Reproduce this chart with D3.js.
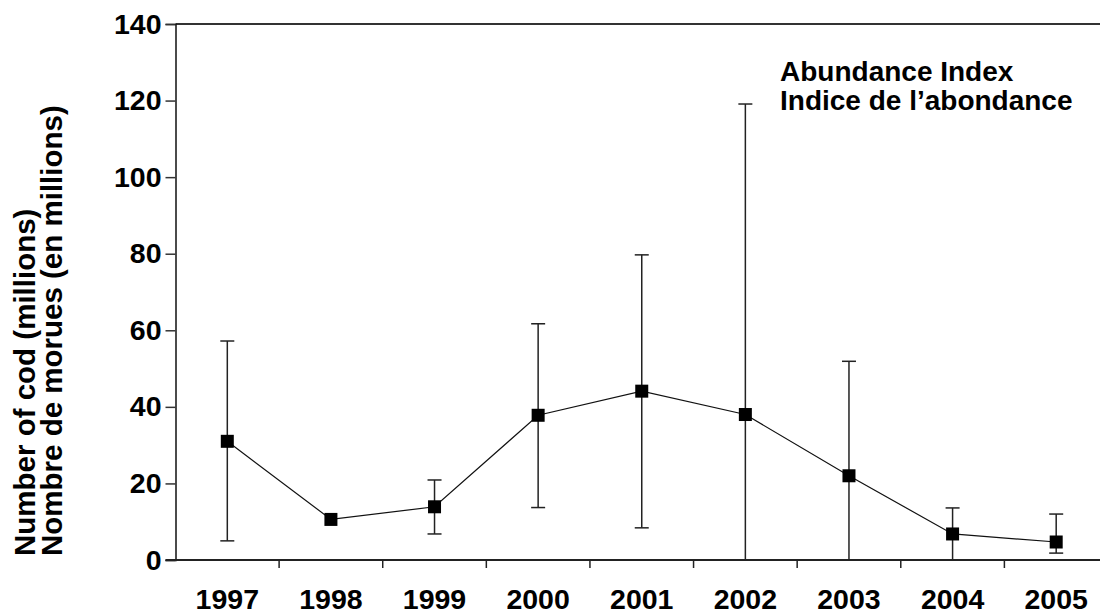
<!DOCTYPE html>
<html>
<head>
<meta charset="utf-8">
<script src="https://cdn.jsdelivr.net/npm/d3@7"></script>
<style>
  body { margin: 0; background: #fff; }
  svg { display: block; font-family: Arial, "Liberation Sans", sans-serif; font-weight: bold; }
</style>
</head>
<body>
<svg id="chart" width="1100" height="615"></svg>
<script>
const years = ["1997","1998","1999","2000","2001","2002","2003","2004","2005"];
const abundance = [31.0, 10.6, 13.9, 37.8, 44.1, 38.0, 22.0, 6.8, 4.7];
const upperCI   = [57.2, null, 20.9, 61.7, 79.7, 119.1, 51.9, 13.6, 12.0];
const lowerCI   = [5.0,  null, 6.8, 13.7, 8.4, 0, 0, 0, 1.8];
const yTicks = [0, 20, 40, 60, 80, 100, 120, 140];
const legendLines = ["Abundance Index", "Indice de l\u2019abondance"];
const yTitleLines = ["Number of cod (millions)", "Nombre de morues (en millions)"];

const svg = d3.select("#chart");
const plotLeft = 175.5, plotRight = 1108, plotTop = 24, plotBottom = 560;

const x = d3.scaleBand().domain(years).range([plotLeft, plotRight]).padding(0);
const y = d3.scaleLinear().domain([0, 140]).range([plotBottom, plotTop]);

// top frame line
svg.append("line").attr("x1", plotLeft).attr("x2", 1100).attr("y1", y(140)).attr("y2", y(140))
  .attr("stroke", "#333").attr("stroke-width", 2);

// y axis
const yAxis = svg.append("g").attr("transform", `translate(${plotLeft},0)`)
  .call(d3.axisLeft(y).tickValues(yTicks).tickSize(10).tickPadding(4));
yAxis.select(".domain").attr("stroke", "#111").attr("stroke-width", 1.5);
yAxis.selectAll(".tick line").attr("stroke", "#333").attr("stroke-width", 1.5);
yAxis.selectAll("text").attr("font-size", 28.5).attr("font-weight", "bold").attr("fill", "#000")
  .attr("font-family", "Arial, 'Liberation Sans', sans-serif");

// x axis line
svg.append("line").attr("x1", plotLeft - 10).attr("x2", 1100).attr("y1", plotBottom).attr("y2", plotBottom)
  .attr("stroke", "#222").attr("stroke-width", 2);
// x ticks at band boundaries
svg.append("g").selectAll("line").data(years.slice(1)).join("line")
  .attr("x1", d => x(d)).attr("x2", d => x(d))
  .attr("y1", plotBottom).attr("y2", plotBottom + 8)
  .attr("stroke", "#222").attr("stroke-width", 1.5);
// x labels
svg.append("g").selectAll("text").data(years).join("text")
  .attr("x", d => x(d) + x.bandwidth() / 2).attr("y", 609)
  .attr("text-anchor", "middle").attr("font-size", 28.5).text(d => d);

// error bars
const data = years.map((yr, i) => ({yr, v: abundance[i], hi: upperCI[i], lo: lowerCI[i]}));
const cx = d => x(d.yr) + x.bandwidth() / 2;
const eb = svg.append("g").selectAll("g").data(data.filter(d => d.hi !== null)).join("g")
  .attr("stroke", "#222").attr("stroke-width", 1.5);
eb.append("line").attr("x1", cx).attr("x2", cx).attr("y1", d => y(d.hi)).attr("y2", d => y(d.lo));
eb.append("line").attr("x1", d => cx(d) - 7).attr("x2", d => cx(d) + 7)
  .attr("y1", d => y(d.hi)).attr("y2", d => y(d.hi));
eb.filter(d => d.lo > 0).append("line").attr("x1", d => cx(d) - 7).attr("x2", d => cx(d) + 7)
  .attr("y1", d => y(d.lo)).attr("y2", d => y(d.lo));

// series line
svg.append("path").datum(data)
  .attr("fill", "none").attr("stroke", "#111").attr("stroke-width", 1.2)
  .attr("d", d3.line().x(cx).y(d => y(d.v)));

// markers
const ms = 13;
svg.append("g").selectAll("rect").data(data).join("rect")
  .attr("x", d => cx(d) - ms / 2).attr("y", d => y(d.v) - ms / 2)
  .attr("width", ms).attr("height", ms).attr("fill", "#000");

// legend text
svg.append("g").selectAll("text").data(legendLines).join("text")
  .attr("x", 780).attr("y", (d, i) => 81 + i * 29)
  .attr("font-size", 28).text(d => d);

// y title
const yt = svg.append("text").attr("transform", "rotate(-90)")
  .attr("font-size", 29.5);
yTitleLines.forEach((t, i) => {
  yt.append("tspan").attr("x", -556).attr("y", 35 + i * 27).text(t);
});
</script>
</body>
</html>
